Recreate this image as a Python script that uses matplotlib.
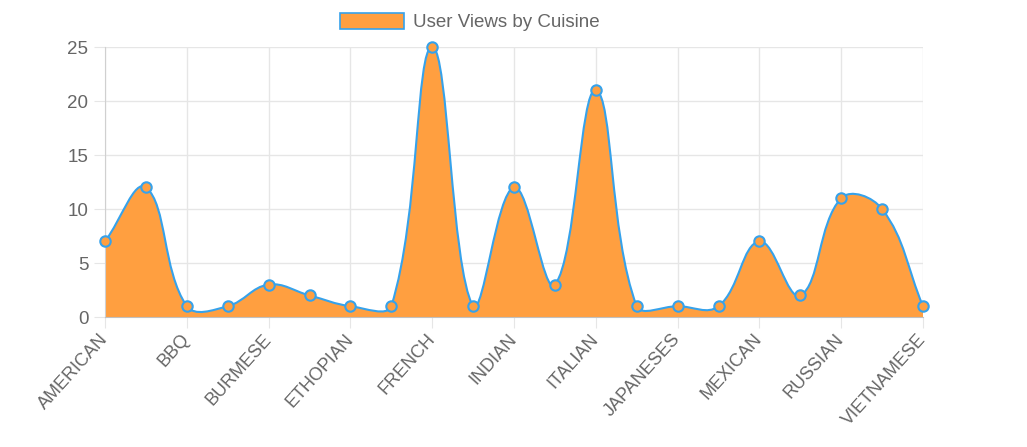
import numpy as np
import matplotlib
matplotlib.use("Agg")
import matplotlib.pyplot as plt
from matplotlib.path import Path
from matplotlib.patches import PathPatch, Patch

plt.rcParams['font.family'] = ['Liberation Sans', 'DejaVu Sans']

# every other label is skipped on the axis (chart auto-skip)
cuisines = ['AMERICAN', 'ARABIC', 'BBQ', 'BRAZILIAN', 'BURMESE', 'CHINESE',
            'ETHOPIAN', 'FILIPINO', 'FRENCH', 'GREEK', 'INDIAN', 'INDONESIAN',
            'ITALIAN', 'JAMAICAN', 'JAPANESES', 'KOREAN', 'MEXICAN', 'PERUVIAN',
            'RUSSIAN', 'THAI', 'VIETNAMESE']
views = [7, 12, 1, 1, 3, 2, 1, 1, 25, 1, 12, 3, 21, 1, 1, 1, 7, 2, 11, 10, 1]
series_name = 'User Views by Cuisine'

fill_color = '#FF9F40'
line_color = '#36A2EB'
text_color = '#666666'
grid_color = '#e6e6e6'
fs = 13.5

W, H = 1027, 447
fig = plt.figure(figsize=(W / 100, H / 100), dpi=100)
ax = fig.add_axes([105 / W, 1 - 317 / H, (923 - 105) / W, (317 - 47) / H])
n = len(views)
ax.set_xlim(0, n - 1)
ax.set_ylim(0, 25)

# chart.js style spline (tension 0.4) computed in pixel space
x = np.arange(n, dtype=float)
y = np.array(views, dtype=float)
pts = ax.transData.transform(np.column_stack([x, y]))
t = 0.4
cp_prev = pts.copy()
cp_next = pts.copy()
for i in range(n):
    prev = pts[i - 1] if i > 0 else pts[i]
    nxt = pts[i + 1] if i < n - 1 else pts[i]
    d01 = np.hypot(*(pts[i] - prev))
    d12 = np.hypot(*(nxt - pts[i]))
    tot = d01 + d12
    s01 = d01 / tot if tot else 0
    s12 = d12 / tot if tot else 0
    cp_prev[i] = pts[i] - t * s01 * (nxt - prev)
    cp_next[i] = pts[i] + t * s12 * (nxt - prev)
inv = ax.transData.inverted()
cp_prev = inv.transform(cp_prev)
cp_next = inv.transform(cp_next)
# cap control points to the chart area
for cp in (cp_prev, cp_next):
    cp[:, 0] = np.clip(cp[:, 0], 0, n - 1)
    cp[:, 1] = np.clip(cp[:, 1], 0, 25)

verts = [(x[0], y[0])]
codes = [Path.MOVETO]
for i in range(n - 1):
    verts += [tuple(cp_next[i]), tuple(cp_prev[i + 1]), (x[i + 1], y[i + 1])]
    codes += [Path.CURVE4] * 3
line_path = Path(verts, codes)
fill_path = Path(verts + [(x[-1], 0), (x[0], 0), (x[0], y[0])],
                 codes + [Path.LINETO, Path.LINETO, Path.CLOSEPOLY])

ax.add_patch(PathPatch(fill_path, facecolor=fill_color, edgecolor='none', zorder=2))
ax.add_patch(PathPatch(line_path, facecolor='none', edgecolor=line_color, lw=1.5, zorder=3))
ax.plot(x, y, 'o', ms=7.5, mfc=fill_color, mec=line_color, mew=1.5, zorder=4,
        clip_on=False)

# axes and grid
ax.set_xticks(x[::2])
ax.set_xticklabels(cuisines[::2], rotation=48, ha='right', va='center',
                   rotation_mode='anchor', color=text_color, fontsize=13)
ax.set_yticks(range(0, 26, 5))
ax.set_yticklabels([str(v) for v in range(0, 26, 5)], color=text_color, fontsize=fs)
ax.tick_params(axis='x', length=8, color=grid_color, pad=6)
ax.tick_params(axis='y', length=8, color=grid_color, pad=4)
ax.grid(True, color=grid_color, lw=1, zorder=0)
ax.set_axisbelow(True)
for s in ['top', 'right']:
    ax.spines[s].set_visible(False)
ax.spines['left'].set_color('#d0d0d0')
ax.spines['bottom'].set_color('#c0c0c0')

leg = fig.legend(handles=[Patch(facecolor=fill_color, edgecolor=line_color, lw=1.2,
                                label=series_name)],
                 loc='center', bbox_to_anchor=(470 / W, 1 - 22 / H), frameon=False,
                 handlelength=3.4, handleheight=1.0, handletextpad=0.5, fontsize=fs)
for txt in leg.get_texts():
    txt.set_color(text_color)

fig.savefig('out.png', dpi=100)
